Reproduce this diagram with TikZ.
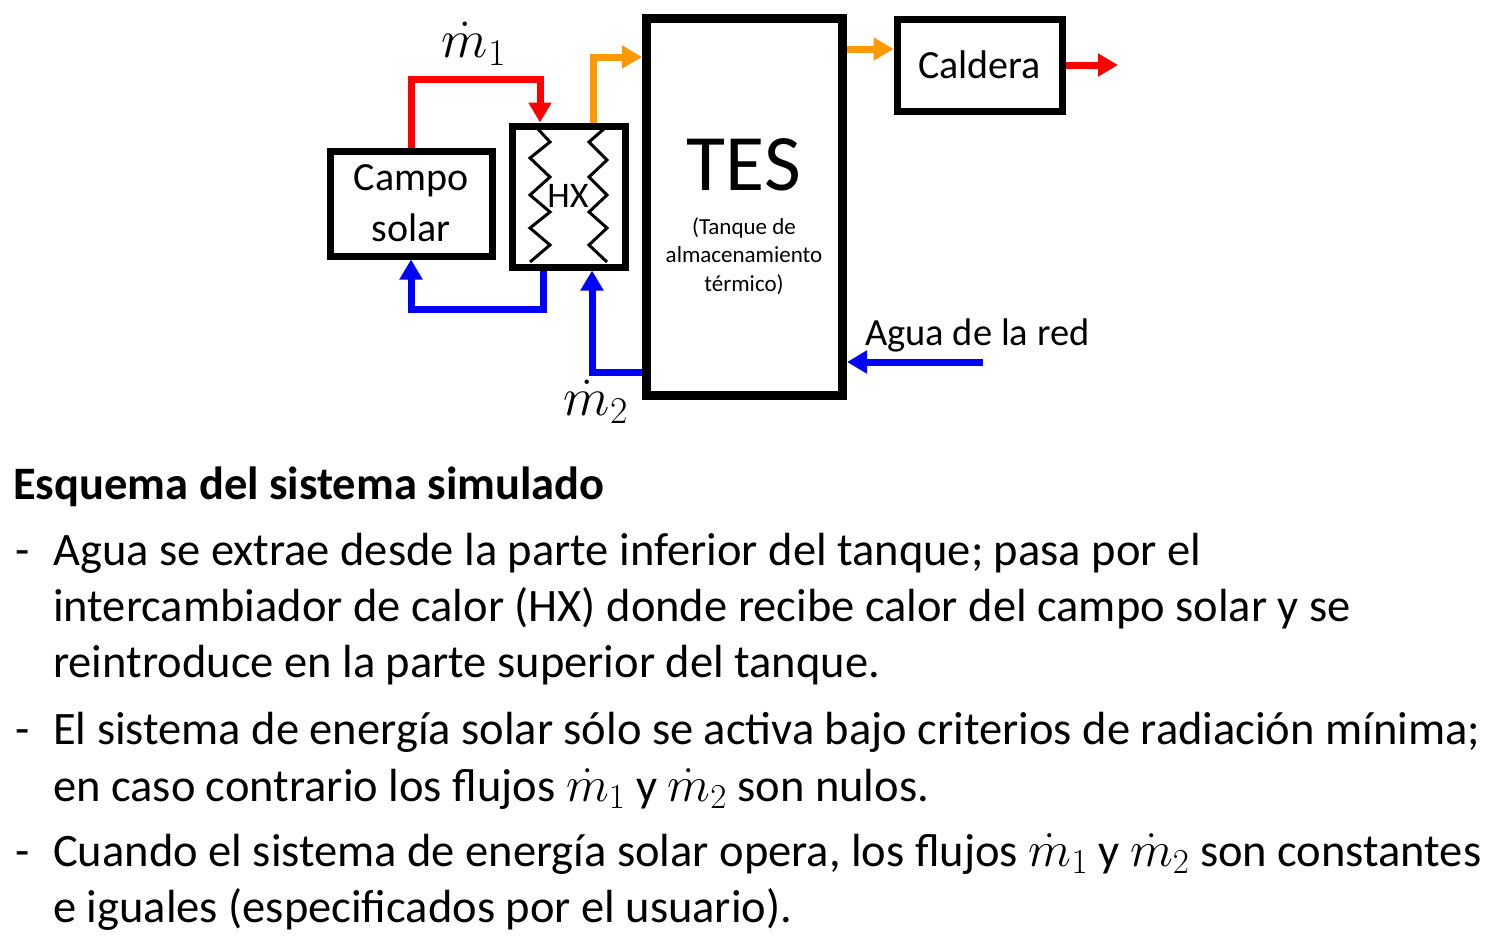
\RequirePackage{fix-cm}
\documentclass[tikz,border=0pt]{standalone}
\usepackage{amsmath}
\usepackage{fontspec}
\setmainfont{Carlito}
\usetikzlibrary{arrows.meta}
\definecolor{flowred}{RGB}{255,0,0}
\definecolor{floworange}{RGB}{255,153,0}
\definecolor{flowblue}{RGB}{0,0,255}
\newcommand{\mflow}[1]{{\fontsize{50}{56}\selectfont$\dot{m}_{#1}$}}

\begin{document}
\begin{tikzpicture}[x=1pt,y=-1pt,
  unit/.style={draw,line width=7pt,inner sep=0pt,align=center},
  flow/.style={line width=7pt,draw=#1,-{Triangle[length=20pt,width=22pt,fill=#1]}},
  zig/.style={line width=3pt,line join=miter},
  txt/.style={inner sep=0pt,anchor=base west,font=\fontsize{46.5}{56}\selectfont}]
\useasboundingbox (0,0) rectangle (1488,945);
% units
\node[unit,minimum width=162pt,minimum height=105pt,font=\fontsize{40}{51}\selectfont] (campo) at (411,203.5) {Campo\\solar};
\node[unit,minimum width=113pt,minimum height=141pt] (hx) at (568.5,196.5) {};
\node[unit,line width=9pt,minimum width=196pt,minimum height=377pt] (tes) at (744.5,207) {};
\node[unit,minimum width=165pt,minimum height=92pt,font=\fontsize{40}{48}\selectfont] (cald) at (979.5,65) {Caldera};
\node[inner sep=0pt,font=\fontsize{36}{40}\selectfont] (hxlbl) at (568,196) {HX};
\node[inner sep=0pt,font=\fontsize{80}{90}\selectfont] (teslbl) at (744,165) {TES};
\node[inner sep=0pt,align=center,font=\fontsize{23}{28.5}\selectfont] (tesdesc) at (744,256) {(Tanque de\\almacenamiento\\térmico)};
% heat exchanger coils
\draw[zig] (537,128) -- (550,142) -- (530,158) -- (550,177) -- (530,195) -- (550,212) -- (530,228) -- (550,245) -- (530,262);
\draw[zig] (605,128) -- (589,142) -- (607,160) -- (589,177) -- (607,195) -- (589,212) -- (607,228) -- (589,245) -- (607,262);
% flows
\coordinate (m1top) at (540,79);
\coordinate (ret) at (543,309);
\coordinate (m2c) at (592,372);
\coordinate (hot) at (593,57);
\coordinate (cin) at ([yshift=16pt]cald.west);
\coordinate (cout) at (1118,65);
\coordinate (red) at (983,362);
\draw[flow=flowred] (campo.north) |- (m1top) -- (m1top |- hx.north);
\draw[flow=flowblue] (ret |- hx.south) -- (ret) -| (campo.south);
\draw[flow=flowblue] (tes.west |- m2c) -- (m2c) -- (m2c |- hx.south);
\draw[flow=floworange] (hot |- hx.north) -- (hot) -- (hot -| tes.west);
\draw[flow=floworange] (cin -| tes.east) -- (cin);
\draw[flow=flowred] (cald.east) -- (cout);
\draw[flow=flowblue] (red) -- (red -| tes.east);
% labels
\node[inner sep=0pt,font=\fontsize{54}{58}\selectfont] (m1) at (474,44) {$\dot{m}_1$};
\node[inner sep=0pt,font=\fontsize{54}{58}\selectfont] (m2) at (596,402) {$\dot{m}_2$};
\node[inner sep=0pt,anchor=base west,font=\fontsize{38.5}{44}\selectfont] (agua) at (865,345) {Agua de la red};
% description
\node[txt,font=\fontsize{46.5}{56}\selectfont\bfseries] (title) at (13,499) {Esquema del sistema simulado};
\node[txt] (d1) at (15,565) {-};
\node[txt] (l1) at (53,565) {Agua se extrae desde la parte inferior del tanque; pasa por el};
\node[txt] (l2) at (53,621) {intercambiador de calor (HX) donde recibe calor del campo solar y se};
\node[txt] (l3) at (53,677) {reintroduce en la parte superior del tanque.};
\node[txt] (d2) at (15,744) {-};
\node[txt] (l4) at (53,744) {El sistema de energía solar sólo se activa bajo criterios de radiación mínima;};
\node[txt] (l5) at (53,801) {en caso contrario los flujos \mflow{1} y \mflow{2} son nulos.};
\node[txt] (d3) at (15,866) {-};
\node[txt] (l6) at (53,866) {Cuando el sistema de energía solar opera, los flujos \mflow{1} y \mflow{2} son constantes};
\node[txt] (l7) at (53,922) {e iguales (especificados por el usuario).};
\end{tikzpicture}
\end{document}
